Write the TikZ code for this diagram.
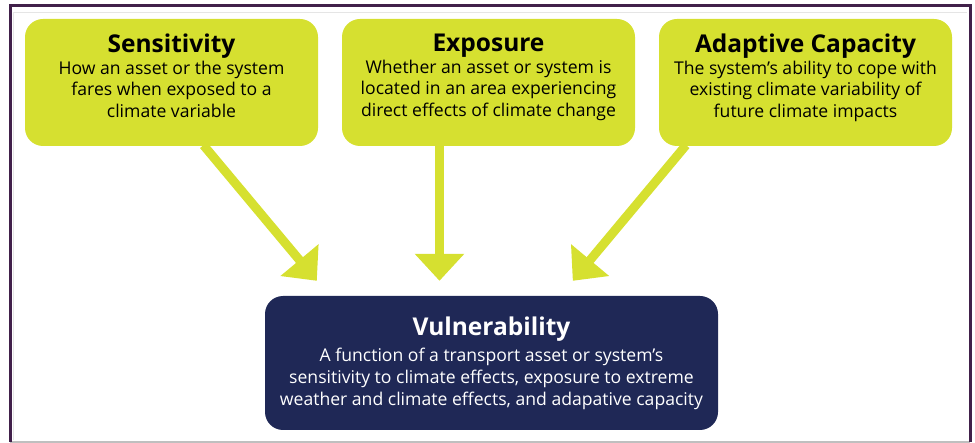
\documentclass[tikz,border=0pt]{standalone}
\usepackage{fontspec}
\setmainfont{Open Sans}
\usetikzlibrary{arrows.meta,calc}
\definecolor{lime}{HTML}{D6E030}
\definecolor{navy}{HTML}{1F2856}
\definecolor{framepurple}{HTML}{41204A}
\newcommand{\ttl}[1]{{\fontsize{24.5}{26}\selectfont\bfseries #1}}
\newcommand{\liftstrut}{\rule[-14pt]{0pt}{14pt}}
\begin{document}
\begin{tikzpicture}[x=1pt,y=-1pt,
  topbox/.style={fill=lime, rounded corners=18pt, minimum width=293pt, minimum height=127pt,
    align=center, inner sep=0pt, text=black, font=\fontsize{17.6}{21.5}\selectfont},
  vulbox/.style={fill=navy, rounded corners=18pt, minimum width=453pt, minimum height=134pt,
    align=center, inner sep=0pt, text=white, font=\fontsize{17.6}{22}\selectfont},
  arr/.style={draw=lime, line width=9pt, -{Triangle[length=27pt,width=48pt]}},
  framerule/.style={draw=framepurple, line width=3pt},
  faint/.style={draw=black!10, line width=0.8pt}
]
\useasboundingbox (0,0) rectangle (975,443);
% frame
\draw[faint] (13,12.5) -- (967,12.5);
\draw[faint] (13.5,12.5) -- (13.5,440);
\draw[draw=black!25, line width=2pt] (10,442) -- (970,442);
\draw[framerule] (10.5,442) -- (10.5,6) -- (970.5,6) -- (970.5,442);

% boxes
\node[topbox] (sens) at (171.5,82.5) {\ttl{Sensitivity}\\How an asset or the system\\fares when exposed to a\\climate variable\liftstrut};
\node[topbox] (expo) at (488.5,82.5) {\ttl{Exposure}\\Whether an asset or system is\\located in an area experiencing\\direct effects of climate change\liftstrut};
\node[topbox] (adap) at (805.5,82.5) {\ttl{Adaptive Capacity}\\The system’s ability to cope with\\existing climate variability of\\future climate impacts\liftstrut};
\node[vulbox] (vul) at (491.5,363) {\ttl{Vulnerability}\\[4pt]A function of a transport asset or system’s\\sensitivity to climate effects, exposure to extreme\\weather and climate effects, and adapative capacity};

% arrow tips
\coordinate (t1) at ($(vul.north west)+(52,-15)$);
\coordinate (t2) at ($(vul.north)+(-52,-15)$);
\coordinate (t3) at ($(vul.north west)+(308,-15)$);

\draw[arr] ([xshift=32pt,yshift=1pt]sens.south) -- (t1);
\draw[arr] ([xshift=-49pt,yshift=1pt]expo.south) -- (t2);
\draw[arr] ([xshift=-119.5pt,yshift=1pt]adap.south) -- (t3);
\end{tikzpicture}
\end{document}
